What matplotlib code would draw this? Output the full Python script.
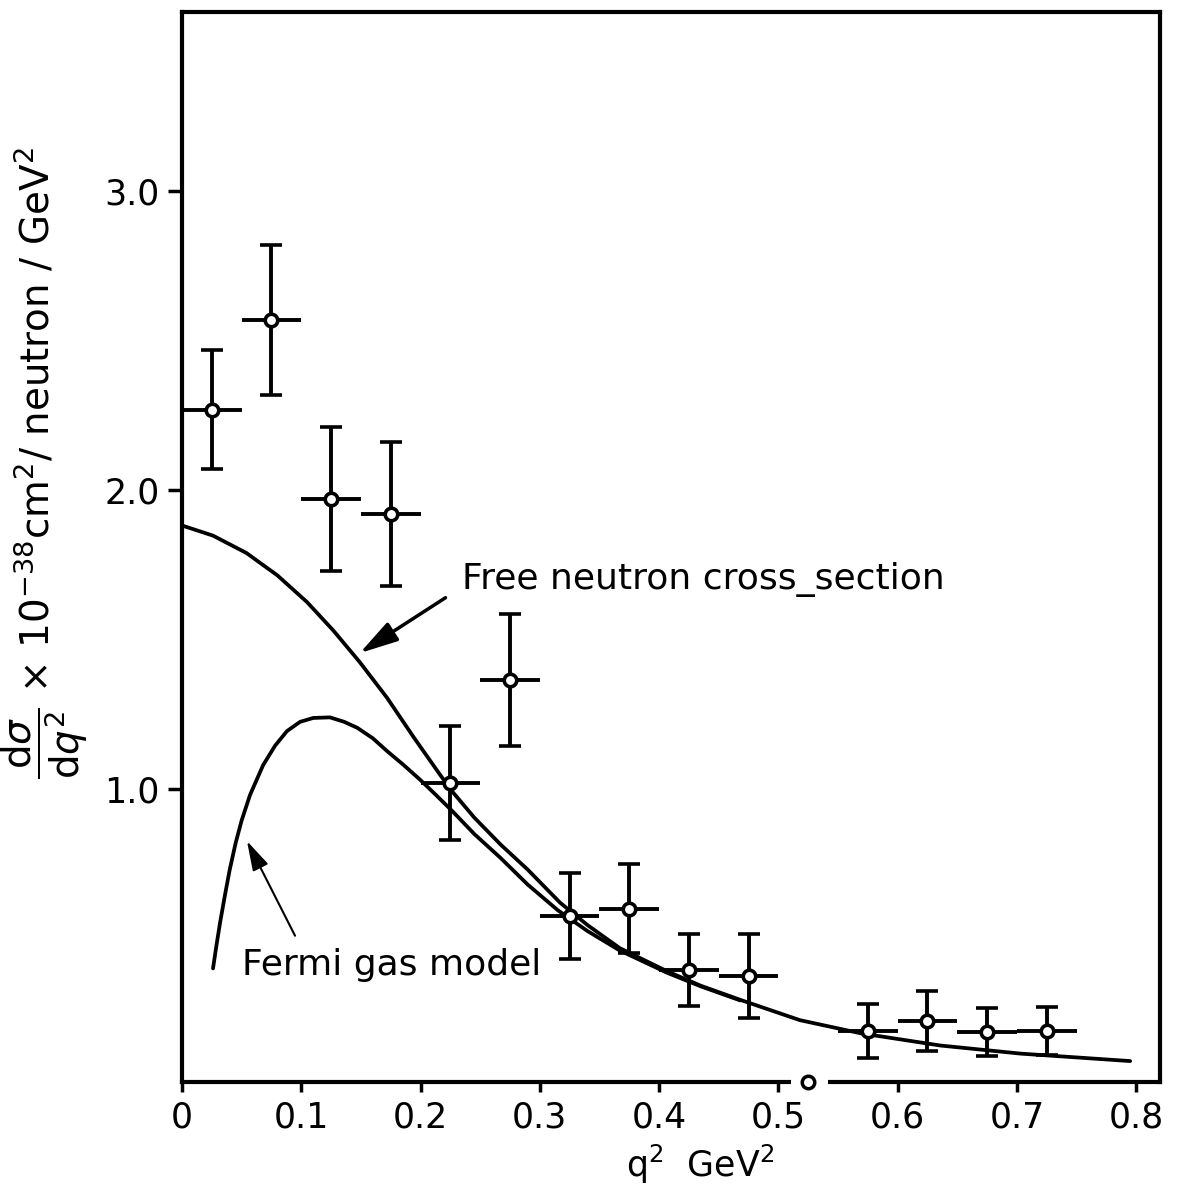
import numpy as np
import matplotlib
matplotlib.use("Agg")
import matplotlib.pyplot as plt

# measured points (q^2 bin centres, cross-section, errors)
q2 = [0.025, 0.075, 0.125, 0.175, 0.225, 0.275, 0.325, 0.375,
      0.425, 0.475, 0.575, 0.625, 0.675, 0.725]
sigma = [2.27, 2.57, 1.97, 1.92, 1.02, 1.365, 0.575, 0.60,
         0.395, 0.375, 0.19, 0.224, 0.187, 0.19]
sigma_err = [0.20, 0.25, 0.24, 0.24, 0.19, 0.22, 0.145, 0.15,
             0.12, 0.14, 0.09, 0.10, 0.08, 0.08]
q2_err = [0.025] * len(q2)

# free neutron cross-section curve
free_q2 = [0.0, 0.026, 0.054, 0.080, 0.105, 0.127, 0.149, 0.172, 0.194,
           0.216, 0.227, 0.245, 0.267, 0.29, 0.317, 0.34, 0.367, 0.407,
           0.435, 0.468, 0.518, 0.569, 0.636, 0.703, 0.795]
free_sigma = [1.882, 1.848, 1.79, 1.715, 1.625, 1.53, 1.425, 1.305, 1.175,
              1.05, 0.99, 0.905, 0.815, 0.73, 0.62, 0.545, 0.468, 0.39,
              0.342, 0.295, 0.227, 0.183, 0.142, 0.115, 0.09]

# Fermi gas model curve
fermi_q2 = [0.026, 0.029, 0.032, 0.036, 0.040, 0.045, 0.050, 0.057, 0.068,
            0.078, 0.088, 0.099, 0.110, 0.124, 0.136, 0.147, 0.160, 0.172,
            0.186, 0.20, 0.213, 0.227, 0.245, 0.267, 0.29, 0.315, 0.34,
            0.367, 0.407, 0.435, 0.468]
fermi_sigma = [0.40, 0.48, 0.555, 0.645, 0.73, 0.82, 0.895, 0.98, 1.08,
               1.145, 1.194, 1.225, 1.238, 1.24, 1.225, 1.205, 1.17, 1.127,
               1.08, 1.03, 0.98, 0.925, 0.85, 0.77, 0.68, 0.595, 0.525,
               0.46, 0.385, 0.34, 0.293]

xticks = [0, 0.1, 0.2, 0.3, 0.4, 0.5, 0.6, 0.7, 0.8]
xticklabels = ["0", "0.1", "0.2", "0.3", "0.4", "0.5", "0.6", "0.7", "0.8"]
yticks = [1.0, 2.0, 3.0]
yticklabels = ["1.0", "2.0", "3.0"]

fig = plt.figure(figsize=(11.82, 12), dpi=100)
ax = fig.add_axes([182 / 1182, 1 - 1082 / 1200, 978 / 1182, 1070 / 1200])

ax.plot(free_q2, free_sigma, color="black", lw=2.7,
        solid_capstyle="round", solid_joinstyle="round")
ax.plot(fermi_q2, fermi_sigma, color="black", lw=2.7,
        solid_capstyle="round", solid_joinstyle="round")

# horizontal bars have no caps, vertical ones do
ax.errorbar(q2, sigma, xerr=q2_err, fmt="none", ecolor="black",
            elinewidth=2.8, capsize=0, zorder=3)
ax.errorbar(q2, sigma, yerr=sigma_err, fmt="o", color="black",
            ecolor="black", elinewidth=2.8, capsize=8, capthick=2.8,
            markersize=9, markerfacecolor="white", markeredgewidth=2.6,
            zorder=4)

ax.set_xlim(0, 0.82)
ax.set_ylim(0.02, 3.6)
ax.set_xticks(xticks)
ax.set_xticklabels(xticklabels)
ax.set_yticks(yticks)
ax.set_yticklabels(yticklabels)
ax.tick_params(axis="both", direction="out", width=2.5, labelsize=25, pad=6)
ax.tick_params(axis="x", length=7)
ax.tick_params(axis="y", length=10)

for s in ax.spines.values():
    s.set_linewidth(3.0)

# little break in the bottom axis with a stray circle
ax.plot([0.511, 0.542], [0.02, 0.02], color="white", lw=6, clip_on=False,
        zorder=5, solid_capstyle="butt")
ax.plot([0.525], [0.02], "o", color="black", markerfacecolor="white",
        markersize=9, markeredgewidth=2.5, clip_on=False, zorder=6)

ax.set_xlabel("q$^2$  GeV$^2$", fontsize=25)
ax.xaxis.set_label_coords(0.53, -0.057)
ax.set_ylabel(r"$\dfrac{\mathrm{d}\sigma}{\mathrm{d}q^2}$ $\times$ 10$^{-38}$cm$^2$/ neutron / GeV$^2$",
              fontsize=28)
ax.yaxis.set_label_coords(-0.094, 0.578)

ax.annotate("Free neutron cross_section", xy=(0.149, 1.455),
            xytext=(0.235, 1.70), fontsize=26, va="center", ha="left",
            arrowprops=dict(arrowstyle="-|>,head_length=0.9,head_width=0.25",
                            color="black", lw=2.5, shrinkA=12, shrinkB=0,
                            relpos=(0, 0.3)))
ax.annotate("Fermi gas model", xy=(0.0545, 0.826), xytext=(0.05, 0.41),
            fontsize=26, va="center", ha="left",
            arrowprops=dict(arrowstyle="-|>,head_length=0.7,head_width=0.2",
                            color="black", lw=1.5, shrinkA=8, shrinkB=0,
                            relpos=(0.2, 1.0)))

fig.savefig("out.png", dpi=100)
